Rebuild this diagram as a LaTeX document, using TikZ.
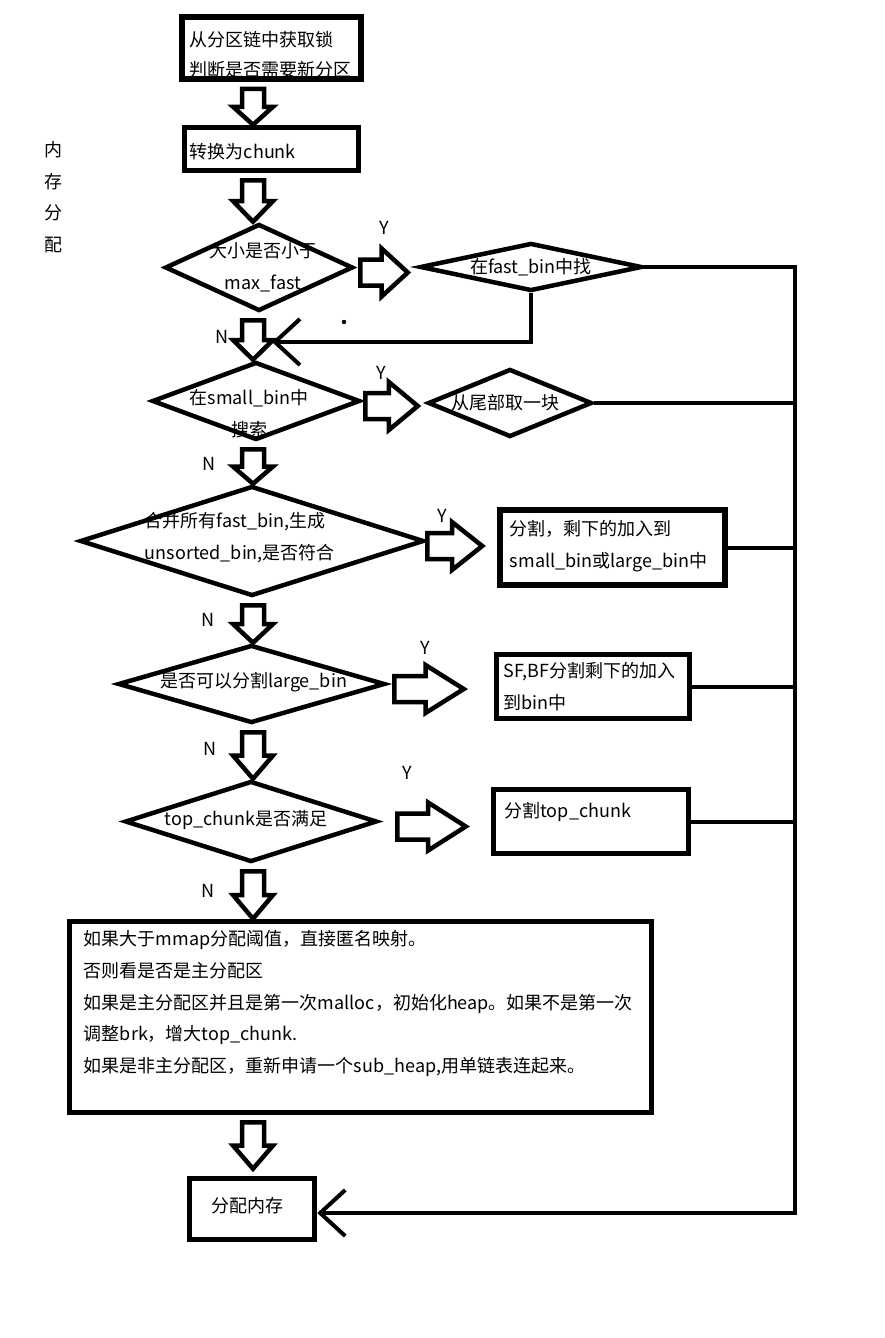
\documentclass[tikz,border=0pt]{standalone}
\usepackage{fontspec}
\setmainfont{Noto Sans CJK SC}
\usetikzlibrary{shapes.geometric,arrows.meta,calc}

\tikzset{
  box/.style={draw, line width=5.5pt, inner sep=0pt},
  decision/.style={draw, diamond, line width=4.5pt, inner sep=0pt},
  txt/.style={font=\fontsize{18pt}{31.7pt}\selectfont, inner sep=0pt, align=left},
  yn/.style={font=\fontsize{18pt}{20pt}\selectfont, inner sep=0pt},
  link/.style={line width=4pt},
  blockarrow/.style={draw, line width=4.5pt, fill=white},
  barb/.style={-{Straight Barb[length=25pt,width=46pt]}},
}

% hollow arrow pointing down, from below #2 to the top of #3
\newcommand{\flowdown}[3][0pt]{%
  \draw[blockarrow] let \p1=(#2.south), \p2=(#3.north), \p3=(spine),
      \n1={\y1-7pt}, \n2={(\y1-7pt+\y2+#1)/2} in
    (\x3-11pt,\n1) -- (\x3+11pt,\n1) -- (\x3+11pt,\n2) -- (\x3+20pt,\n2)
    -- (\x3,\y2+#1) -- (\x3-20pt,\n2) -- (\x3-11pt,\n2) -- cycle;}

% hollow arrow pointing right, #3 gap after #1, #4 gap before #2
\newcommand{\flowright}[4]{%
  \draw[blockarrow] let \p1=(#1.east), \p2=(#2.west),
      \n1={\x1+#3}, \n2={\x2-#4}, \n3={\x1+#3+0.45*(\x2-#4-\x1-#3)},
      \n4={\y1-5pt} in
    (\n1,\n4+13pt) -- (\n3,\n4+13pt) -- (\n3,\n4+24pt) -- (\n2,\n4)
    -- (\n3,\n4-24pt) -- (\n3,\n4-13pt) -- (\n1,\n4-13pt) -- cycle;}

\begin{document}
\begin{tikzpicture}[x=1pt, y=-1pt]
  \useasboundingbox (0,0) rectangle (885,1338);
  \coordinate (spine) at (253,0);
  \coordinate (bus) at (795,0);
  \coordinate (busend) at (795,1213);
  \coordinate (join) at (272,342);

  % main column
  \node[box, minimum width=179pt, minimum height=62pt] (b1) at (271.5,48) {};
  \node[box, minimum width=174pt, minimum height=43pt] (b2) at (271.5,149) {};
  \node[decision, minimum width=188pt, minimum height=87pt] (d1) at (259,267.5) {};
  \node[decision, minimum width=208pt, minimum height=78pt] (d3) at (256,401) {};
  \node[decision, minimum width=344pt, minimum height=110pt] (d5) at (252,541) {};
  \node[decision, minimum width=267pt, minimum height=78pt] (d6) at (251.5,684) {};
  \node[decision, minimum width=252pt, minimum height=81pt] (d7) at (251,821.5) {};
  \node[box, minimum width=582pt, minimum height=191pt] (b6) at (360.5,1017) {};
  \node[box, minimum width=125pt, minimum height=61pt] (b7) at (252,1209) {};

  % right column
  \node[decision, minimum width=222pt, minimum height=48pt] (d2) at (531,267) {};
  \node[decision, minimum width=164pt, minimum height=68pt] (d4) at (510,403) {};
  \node[box, minimum width=225pt, minimum height=75pt] (b3) at (612.5,547.5) {};
  \node[box, minimum width=193pt, minimum height=64pt] (b4) at (593,686.5) {};
  \node[box, minimum width=195pt, minimum height=64pt] (b5) at (591,821.5) {};

  % texts
  \node[txt, anchor=west, font=\fontsize{18pt}{30pt}\selectfont] (b1t) at ([shift={(10,7)}]b1.west)
    {从分区链中获取锁\\判断是否需要新分区};
  \node[txt, anchor=west] (b2t) at ([shift={(8,3)}]b2.west) {转换为chunk};
  \node[txt, align=center] (d1t) at ([shift={(4,-0.5)}]d1.center) {大小是否小于\\max\_fast};
  \node[txt] (d2t) at (d2.center) {在fast\_bin中找};
  \node[txt, align=center] (d3t) at ([shift={(-7,12.5)}]d3.center) {在small\_bin中\\搜索};
  \node[txt] (d4t) at ([shift={(-5,0)}]d4.center) {从尾部取一块};
  \node[txt, anchor=west] (d5t) at ([shift={(67,-3.5)}]d5.west)
    {合并所有fast\_bin,生成\\unsorted\_bin,是否符合};
  \node[txt] (d6t) at ([shift={(2,-2)}]d6.center) {是否可以分割large\_bin};
  \node[txt] (d7t) at ([shift={(-5,-1.5)}]d7.center) {top\_chunk是否满足};
  \node[txt, anchor=west] (b3t) at ([shift={(12.5,-1.5)}]b3.west)
    {分割，剩下的加入到\\small\_bin或large\_bin中};
  \node[txt, anchor=west] (b4t) at ([shift={(9.5,0)}]b4.west) {SF,BF分割剩下的加入\\到bin中};
  \node[txt, anchor=west] (b5t) at ([shift={(13.5,-9.5)}]b5.west) {分割top\_chunk};
  \node[txt, anchor=west] (b6t) at ([shift={(17,-13.5)}]b6.west)
    {如果大于mmap分配阈值，直接匿名映射。\\
     否则看是否是主分配区\\
     如果是主分配区并且是第一次malloc，初始化heap。如果不是第一次\\
     调整brk，增大top\_chunk.\\
     如果是非主分配区，重新申请一个sub\_heap,用单链表连起来。};
  \node[txt] (b7t) at ([shift={(-5,-3)}]b7.center) {分配内存};
  \node[txt, align=center] (side) at (53,197) {内\\存\\分\\配};

  % Y / N
  \node[yn] (y1) at (384,228) {Y};
  \node[yn] (y2) at (381,373) {Y};
  \node[yn] (y3) at (442,516) {Y};
  \node[yn] (y4) at (425,648) {Y};
  \node[yn] (y5) at (407,773) {Y};
  \node[yn] (n1) at (222,337) {N};
  \node[yn] (n2) at (209,464) {N};
  \node[yn] (n3) at (208,620) {N};
  \node[yn] (n4) at (210,749) {N};
  \node[yn] (n5) at (208,891) {N};

  % hollow arrows
  \flowdown{b1}{b2}
  \flowdown{b2}{d1}
  \flowdown{d1}{d3}
  \flowdown{d3}{d5}
  \flowdown{d5}{d6}
  \flowdown{d6}{d7}
  \flowdown{d7}{b6}
  \flowdown[7pt]{b6}{b7}
  \flowright{d1}{d2}{5pt}{10pt}
  \flowright{d3}{d4}{3pt}{8pt}
  \flowright{d5}{b3}{1pt}{15pt}
  \flowright{d6}{b4}{7pt}{30pt}
  \flowright{d7}{b5}{18pt}{25pt}

  % lines back
  \draw[link, barb] (d2.south) |- (join);
  \draw[link, barb] (d2.east) -| (busend) -- (busend -| b7.east);
  \draw[link] (d4.east) -- (d4.east -| bus);
  \draw[link] (b3.east) -- (b3.east -| bus);
  \draw[link] (b4.east) -- (b4.east -| bus);
  \draw[link] (b5.east) -- (b5.east -| bus);
  \fill (344,322) circle (2.2pt);
\end{tikzpicture}
\end{document}
